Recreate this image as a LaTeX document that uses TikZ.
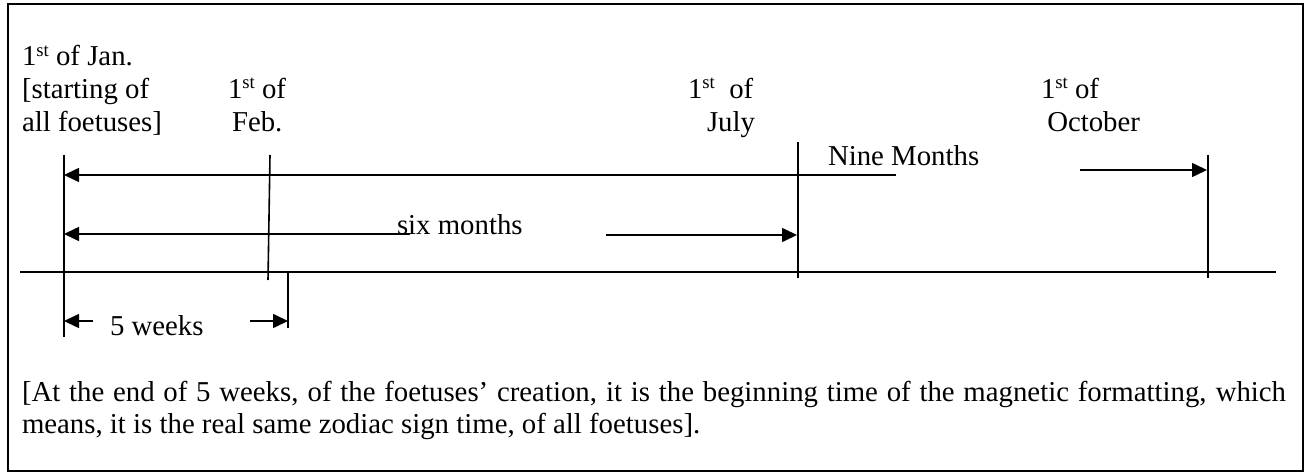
\documentclass[tikz,border=0pt]{standalone}
\usepackage{fontspec}
\setmainfont{Liberation Serif}
\usetikzlibrary{arrows.meta}
\newcommand\sups[1]{\raisebox{0.33em}{\fontsize{18.7}{18.7}\selectfont #1}}
\tikzset{
  lbl/.style={anchor=base west, inner sep=0pt, outer sep=0pt, font=\fontsize{28.8}{33}\selectfont},
  lble/.style={lbl, anchor=base east},
  ln/.style={line width=1.6pt, black},
  arr/.style={ln, -{Triangle[length=15pt,width=14pt]}},
}
\begin{document}
\begin{tikzpicture}[x=1pt,y=-1pt]
\useasboundingbox (0,0) rectangle (1307,473);
\draw[line width=2pt] (8,4) rectangle (1303,471);

% labels
\node[lbl] (jan1) at (22,66) {1\sups{st} of Jan.};
\node[lbl] (jan2) at (22,98.5) {[starting of};
\node[lbl] (jan3) at (22,132) {all foetuses]};
\node[lbl] (feb1) at (228,98.5) {1\sups{st} of};
\node[lbl] (feb2) at (232,132) {Feb.};
\node[lbl] (jul1) at (688,98.5) {1\sups{st}~~of};
\node[lbl] (jul2) at (707,132) {July};
\node[lbl] (oct1) at (1041,98.5) {1\sups{st} of};
\node[lble] (oct2) at (1140,132) {October};
\node[lbl] (nine) at (828,166) {Nine Months};
\node[lbl] (six) at (397,235) {six months};
\node[lbl] (five) at (110,335) {5 weeks};
\node[lbl] (note1) at (22,401) {\makebox[1264pt][s]{[At the end of 5 weeks, of the foetuses’ creation, it is the beginning time of the magnetic formatting, which}};
\node[lbl] (note2) at (22,433) {means, it is the real same zodiac sign time, of all foetuses].};

% axis and ticks
\coordinate (axL) at (20,272);
\coordinate (axR) at (1276,272);
\draw[ln] (axL) -- (axR);
\coordinate (janT) at (64,155);
\coordinate (janB) at (64,337);
\draw[ln] (janT) -- (janB);
\coordinate (febT) at (270,155);
\coordinate (febB) at (268,280);
\draw[ln] (febT) -- (febB);
\coordinate (wkT) at (288,272);
\coordinate (wkB) at (288,328);
\draw[ln] (wkT) -- (wkB);
\coordinate (julT) at (798,142);
\coordinate (julB) at (798,278);
\draw[ln] (julT) -- (julB);
\coordinate (octT) at (1208,155);
\coordinate (octB) at (1208,278);
\draw[ln] (octT) -- (octB);

% nine months
\coordinate (n1s) at (896,175);
\coordinate (n1e) at (64,175);
\draw[arr] (n1s) -- (n1e);
\coordinate (n2s) at (1080,170);
\coordinate (n2e) at (1207,170);
\draw[arr] (n2s) -- (n2e);

% six months
\coordinate (s1s) at (410,234);
\coordinate (s1e) at (64,234);
\draw[arr] (s1s) -- (s1e);
\coordinate (s2s) at (606,235);
\coordinate (s2e) at (797,235);
\draw[arr] (s2s) -- (s2e);

% five weeks
\coordinate (w1s) at (93,321);
\coordinate (w1e) at (64,321);
\draw[arr] (w1s) -- (w1e);
\coordinate (w2s) at (250,321);
\coordinate (w2e) at (288,321);
\draw[arr] (w2s) -- (w2e);
\end{tikzpicture}
\end{document}
